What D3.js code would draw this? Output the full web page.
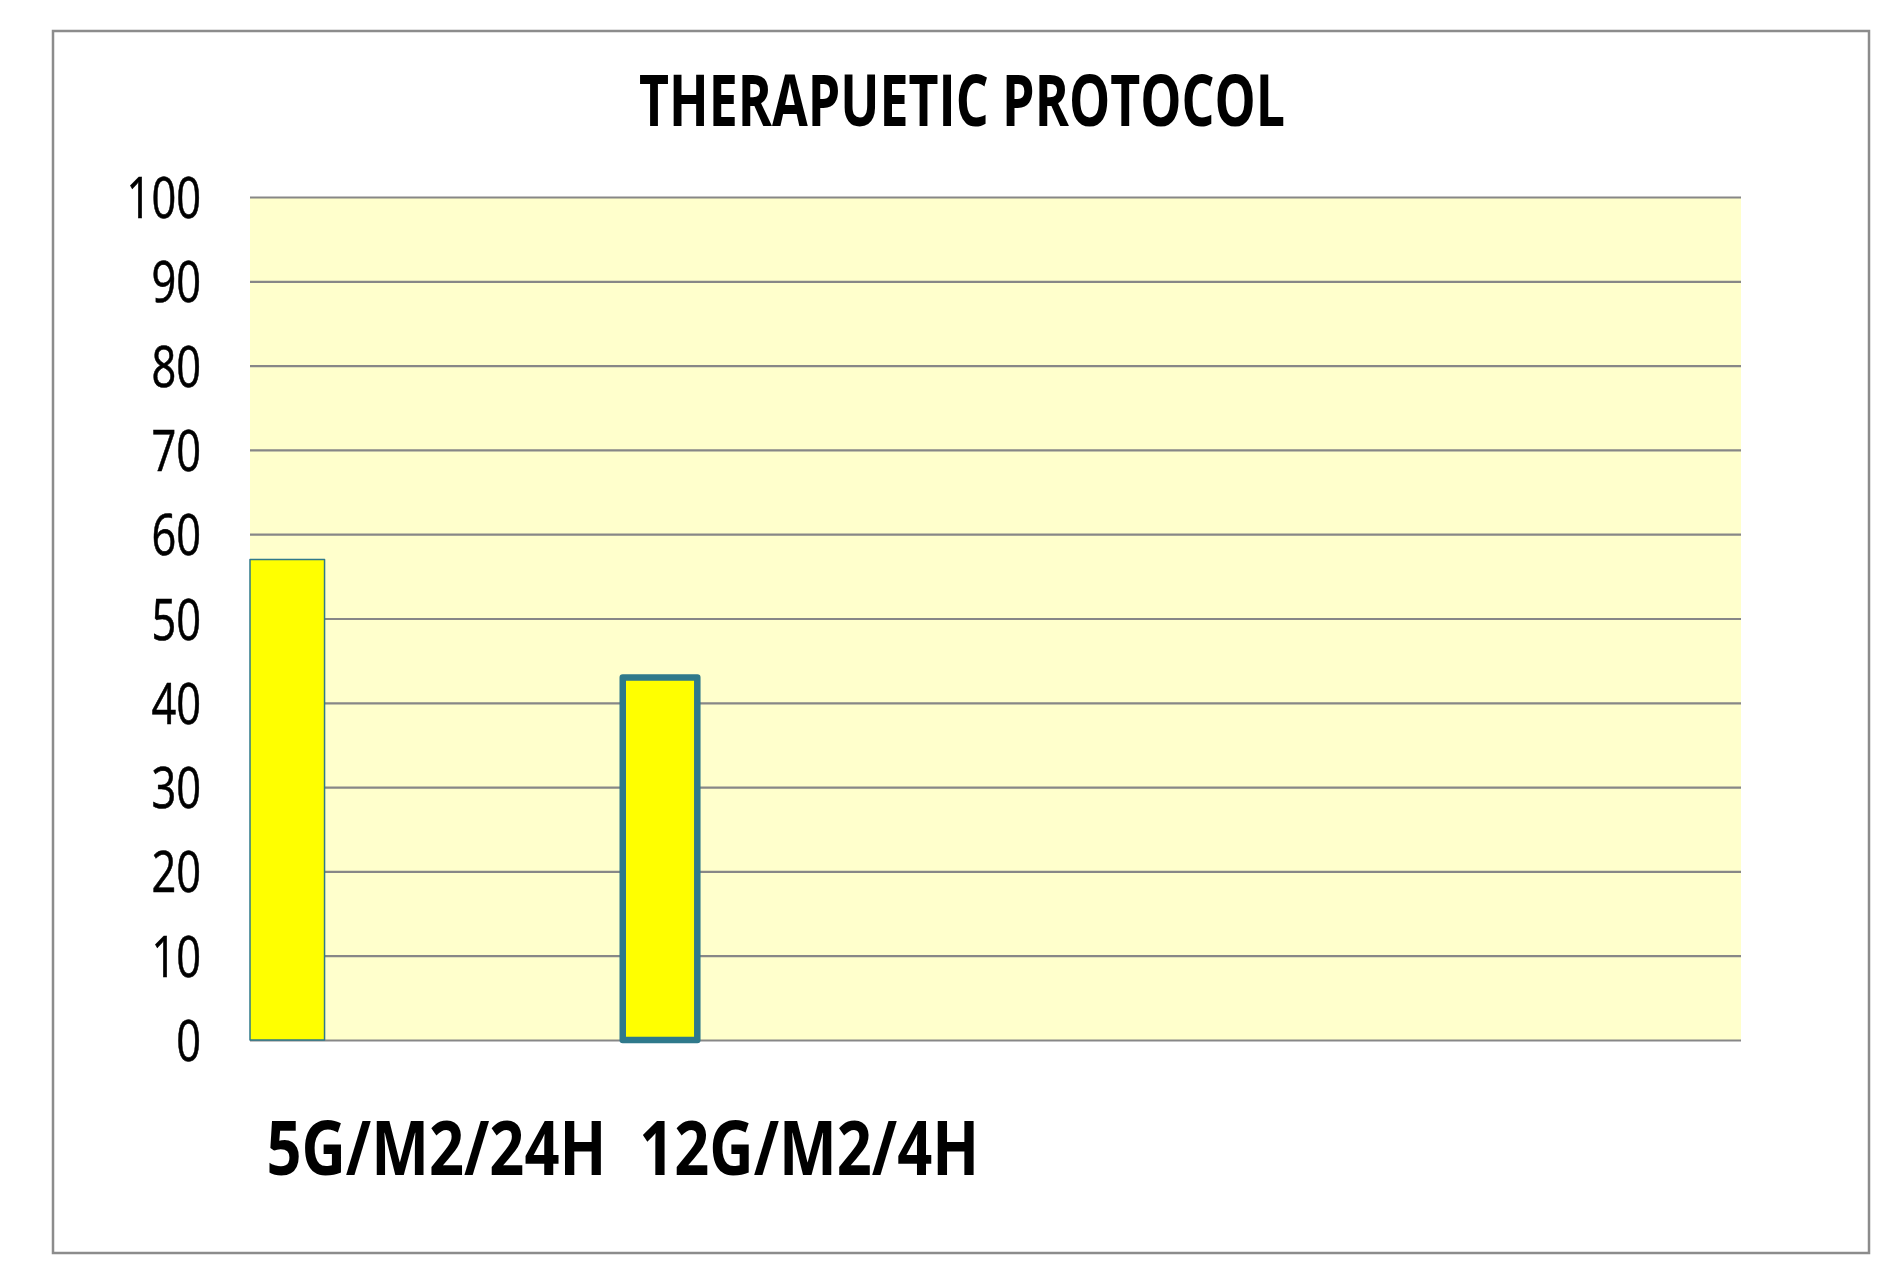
<!DOCTYPE html>
<html>
<head>
<meta charset="utf-8">
<script src="https://cdn.jsdelivr.net/npm/d3@7"></script>
<style>
  body { margin: 0; background: #fff; }
  svg { display: block; }
</style>
</head>
<body>
<svg id="chart"></svg>
<script>
// values
const categories = ["5G/M2/24H", "12G/M2/4H"];
const values = [57, 43];
const yTicks = [0, 10, 20, 30, 40, 50, 60, 70, 80, 90, 100];
const title = "THERAPUETIC PROTOCOL";

// styling per bar (not data)
const barStroke = [1.5, 6.5];

let width = 1893;
let height = 1267;

let svg = d3.select("#chart")
  .attr("width", width)
  .attr("height", height);

// squeeze a text horizontally so it is `target` px wide (the source font is narrow)
function squeeze(sel, target, cx, cy) {
  sel.each(function(d, i) {
    let t = d3.select(this);
    let len = this.getComputedTextLength();
    let w = typeof target === "function" ? target(d, i) : target;
    let px = typeof cx === "function" ? cx(d, i) : cx;
    t.attr("x", 0).attr("y", 0)
      .attr("transform", `translate(${px},${cy}) scale(${w / len},1)`);
  });
}

// outer chart frame
svg.append("rect")
  .attr("x", 53).attr("y", 31)
  .attr("width", 1816).attr("height", 1222)
  .attr("fill", "#fff")
  .attr("stroke", "#8c8c8c")
  .attr("stroke-width", 2.5);

let plot = { left: 250, right: 1741, top: 197, bottom: 1040 };
let plotW = plot.right - plot.left;

// the category axis has two blank slots after the two used ones
let x = d3.scaleBand()
  .domain(d3.range(categories.length + 2))
  .range([plot.left, plot.right])
  .padding(0);

let y = d3.scaleLinear()
  .domain([0, 100])
  .range([plot.bottom, plot.top]);

svg.append("rect")
  .attr("x", plot.left).attr("y", plot.top)
  .attr("width", plotW).attr("height", plot.bottom - plot.top)
  .attr("fill", "#ffffcc");

let yAxis = svg.append("g")
  .attr("transform", `translate(${plot.left},0)`)
  .call(d3.axisLeft(y)
    .tickValues(yTicks)
    .tickSize(-plotW)
    .tickPadding(49)
    .tickFormat(d3.format("d")));

yAxis.select(".domain").remove();
yAxis.selectAll(".tick line")
  .attr("stroke", "#878787")
  .attr("stroke-width", 2.2);
yAxis.selectAll(".tick text")
  .attr("font-family", "'Open Sans', sans-serif")
  .attr("font-size", 57)
  .attr("fill", "#000")
  .attr("stroke", "#000")
  .attr("stroke-width", 0.6)
  .attr("dy", "0.36em")
  .attr("textLength", d => String(d).length * 24.8)
  .attr("lengthAdjust", "spacingAndGlyphs");

let barW = x.bandwidth() * 0.2;

svg.selectAll(".bar")
  .data(values)
  .join("rect")
  .attr("class", "bar")
  .attr("x", (d, i) => x(i))
  .attr("y", d => y(d))
  .attr("width", barW)
  .attr("height", d => y(0) - y(d))
  .attr("fill", "#ffff00")
  .attr("stroke", "#2f798b")
  .attr("stroke-linejoin", "round")
  .attr("stroke-width", (d, i) => barStroke[i]);

svg.selectAll(".xlabel")
  .data(categories)
  .join("text")
  .attr("class", "xlabel")
  .attr("text-anchor", "middle")
  .attr("font-family", "'Open Sans', sans-serif")
  .attr("font-weight", "bold")
  .attr("font-size", 76)
  .text(d => d)
  .call(squeeze, 340, (d, i) => x(i) + x.bandwidth() / 2, 1175);

svg.append("text")
  .attr("text-anchor", "middle")
  .attr("font-family", "'Open Sans', sans-serif")
  .attr("font-weight", "bold")
  .attr("font-size", 71)
  .text(title)
  .call(squeeze, 646, 962, 126);
</script>
</body>
</html>
